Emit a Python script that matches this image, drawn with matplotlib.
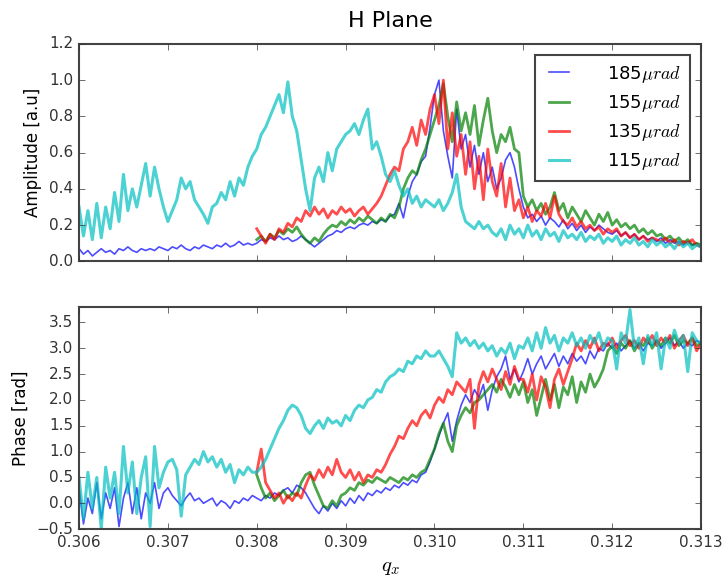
import numpy as np
import matplotlib
matplotlib.use("Agg")
import matplotlib.pyplot as plt

plt.style.use("classic")
plt.rcParams["mathtext.fontset"] = "cm"

# q_x sampling grid (shared by all scans), the 155/135 scans start at 0.308
q_full = np.round(np.linspace(0.306, 0.313, 141), 5)
q_part = q_full[40:]

labels = ["185$\\mu rad$", "155$\\mu rad$", "135$\\mu rad$", "115$\\mu rad$"]
colors = ["b", "g", "r", "c"]
widths = [1.2, 2.0, 2.0, 2.2]

amp_185 = [
    0.07, 0.04, 0.06, 0.03, 0.05, 0.07, 0.05, 0.06, 0.04, 0.07,
    0.06, 0.08, 0.06, 0.05, 0.07, 0.06, 0.07, 0.06, 0.08, 0.07,
    0.06, 0.08, 0.07, 0.09, 0.07, 0.06, 0.08, 0.07, 0.09, 0.08,
    0.07, 0.09, 0.08, 0.10, 0.08, 0.09, 0.11, 0.09, 0.10, 0.09,
    0.10, 0.12, 0.11, 0.13, 0.12, 0.14, 0.12, 0.13, 0.11, 0.12,
    0.14, 0.12, 0.10, 0.08, 0.10, 0.12, 0.14, 0.15, 0.17, 0.16,
    0.18, 0.19, 0.18, 0.20, 0.21, 0.20, 0.22, 0.21, 0.23, 0.22,
    0.25, 0.26, 0.32, 0.24, 0.36, 0.44, 0.48, 0.55, 0.58, 0.74,
    0.92, 1.00, 0.72, 0.58, 0.46, 0.84, 0.62, 0.70, 0.52, 0.64,
    0.48, 0.60, 0.44, 0.52, 0.40, 0.46, 0.56, 0.60, 0.52, 0.40,
    0.30, 0.24, 0.26, 0.22, 0.25, 0.20, 0.24, 0.22, 0.19, 0.23,
    0.18, 0.21, 0.17, 0.20, 0.16, 0.19, 0.17, 0.20, 0.18, 0.16,
    0.15, 0.17, 0.14, 0.16, 0.13, 0.15, 0.12, 0.14, 0.12, 0.13,
    0.11, 0.13, 0.10, 0.12, 0.10, 0.11, 0.09, 0.11, 0.09, 0.10,
    0.08,
]
amp_155 = [
    0.12, 0.14, 0.11, 0.15, 0.13, 0.17, 0.15, 0.18, 0.16, 0.19,
    0.15, 0.12, 0.10, 0.13, 0.11, 0.15, 0.18, 0.20, 0.19, 0.22,
    0.20, 0.23, 0.21, 0.24, 0.22, 0.25, 0.23, 0.21, 0.24, 0.22,
    0.26, 0.24, 0.30, 0.40, 0.46, 0.50, 0.48, 0.56, 0.62, 0.70,
    0.78, 0.86, 0.98, 0.80, 0.66, 0.88, 0.72, 0.82, 0.70, 0.86,
    0.64, 0.78, 0.90, 0.72, 0.60, 0.70, 0.66, 0.74, 0.62, 0.60,
    0.36, 0.30, 0.34, 0.28, 0.32, 0.26, 0.30, 0.38, 0.28, 0.32,
    0.24, 0.30, 0.26, 0.22, 0.28, 0.24, 0.20, 0.26, 0.22, 0.27,
    0.20, 0.23, 0.19, 0.21, 0.18, 0.20, 0.16, 0.18, 0.15, 0.17,
    0.14, 0.15, 0.12, 0.14, 0.11, 0.13, 0.10, 0.12, 0.09, 0.10,
    0.09,
]
amp_135 = [
    0.18, 0.14, 0.10, 0.15, 0.12, 0.18, 0.16, 0.21, 0.19, 0.24,
    0.22, 0.28, 0.25, 0.30, 0.26, 0.29, 0.24, 0.28, 0.26, 0.30,
    0.27, 0.29, 0.25, 0.28, 0.30, 0.26, 0.29, 0.32, 0.36, 0.42,
    0.48, 0.52, 0.50, 0.62, 0.66, 0.74, 0.64, 0.78, 0.70, 0.84,
    0.92, 0.76, 1.00, 0.62, 0.82, 0.58, 0.70, 0.48, 0.66, 0.40,
    0.58, 0.34, 0.62, 0.44, 0.36, 0.54, 0.30, 0.46, 0.28, 0.34,
    0.24, 0.30, 0.22, 0.28, 0.25, 0.32, 0.24, 0.36, 0.26, 0.22,
    0.20, 0.24, 0.19, 0.22, 0.18, 0.20, 0.17, 0.19, 0.15, 0.18,
    0.16, 0.18, 0.14, 0.16, 0.13, 0.15, 0.12, 0.14, 0.11, 0.13,
    0.12, 0.11, 0.13, 0.10, 0.12, 0.09, 0.11, 0.10, 0.12, 0.09,
    0.08,
]
amp_115 = [
    0.30, 0.14, 0.28, 0.12, 0.32, 0.13, 0.30, 0.18, 0.38, 0.22,
    0.48, 0.28, 0.40, 0.30, 0.42, 0.54, 0.36, 0.52, 0.40, 0.30,
    0.22, 0.28, 0.34, 0.46, 0.40, 0.44, 0.34, 0.30, 0.26, 0.21,
    0.30, 0.32, 0.38, 0.34, 0.44, 0.36, 0.46, 0.42, 0.52, 0.58,
    0.62, 0.70, 0.74, 0.80, 0.86, 0.92, 0.82, 0.99, 0.80, 0.72,
    0.56, 0.40, 0.28, 0.46, 0.52, 0.44, 0.60, 0.50, 0.62, 0.66,
    0.70, 0.72, 0.76, 0.70, 0.78, 0.84, 0.62, 0.66, 0.58, 0.48,
    0.44, 0.50, 0.42, 0.36, 0.40, 0.32, 0.36, 0.30, 0.34, 0.32,
    0.30, 0.34, 0.28, 0.32, 0.38, 0.48, 0.30, 0.22, 0.20, 0.18,
    0.22, 0.18, 0.20, 0.16, 0.14, 0.18, 0.12, 0.20, 0.15, 0.18,
    0.13, 0.20, 0.14, 0.17, 0.12, 0.18, 0.14, 0.16, 0.11, 0.17,
    0.13, 0.15, 0.12, 0.16, 0.11, 0.14, 0.12, 0.15, 0.10, 0.13,
    0.11, 0.14, 0.09, 0.12, 0.10, 0.13, 0.09, 0.11, 0.08, 0.12,
    0.09, 0.11, 0.08, 0.10, 0.07, 0.11, 0.08, 0.10, 0.07, 0.09,
    0.08,
]

ph_185 = [
    0.30, -0.40, 0.10, -0.20, 0.40, -0.30, 0.20, -0.10, 0.30, -0.45,
    0.10, 0.40, -0.20, 0.30, -0.30, 0.20, 0.00, 0.40, -0.10, 0.20,
    0.30, 0.15, 0.05, -0.05, 0.10, 0.20, 0.05, 0.10, 0.00, 0.05,
    0.10, -0.05, 0.05, 0.00, -0.10, 0.05, 0.00, 0.10, 0.05, 0.15,
    0.10, 0.05, 0.15, 0.10, 0.20, 0.15, 0.25, 0.30, 0.20, 0.35,
    0.30, 0.20, 0.05, -0.10, -0.20, -0.05, -0.15, 0.00, -0.10, 0.05,
    -0.05, 0.10, 0.00, 0.15, 0.05, 0.20, 0.15, 0.25, 0.20, 0.30,
    0.25, 0.35, 0.30, 0.40, 0.35, 0.45, 0.40, 0.55, 0.60, 0.80,
    1.05, 1.30, 1.55, 1.75, 1.20, 1.60, 1.90, 2.10, 1.95, 2.20,
    2.05, 2.30, 1.80, 2.20, 2.45, 2.60, 2.85, 2.40, 2.60, 2.35,
    2.55, 2.80, 2.50, 2.70, 2.85, 2.60, 2.75, 2.90, 2.65, 2.85,
    2.70, 2.90, 2.75, 2.85, 2.70, 2.95, 2.80, 3.00, 2.95, 3.10,
    3.00, 3.10, 2.95, 3.05, 3.15, 3.00, 3.10, 2.95, 3.10, 3.05,
    3.15, 3.00, 3.10, 3.20, 3.05, 3.15, 3.00, 3.10, 3.05, 3.15,
    3.10,
]
ph_155 = [
    0.55, 0.30, 0.10, 0.20, 0.05, 0.15, 0.25, 0.10, 0.20, 0.15,
    0.40, 0.55, 0.60, 0.35, 0.15, -0.05, -0.10, 0.05, -0.05, 0.15,
    0.20, 0.30, 0.25, 0.40, 0.35, 0.45, 0.40, 0.50, 0.45, 0.40,
    0.50, 0.45, 0.40, 0.50, 0.45, 0.55, 0.50, 0.60, 0.65, 0.85,
    1.05, 1.35, 1.55, 1.20, 1.00, 1.50, 1.70, 1.85, 1.75, 1.95,
    2.00, 2.10, 2.20, 2.30, 2.15, 2.40, 2.25, 2.05, 2.30, 2.10,
    2.35, 1.95, 2.20, 1.70, 2.05, 2.40, 2.00, 2.30, 1.85, 2.25,
    2.10, 2.45, 1.95, 2.35, 2.15, 2.50, 2.25, 2.40, 2.60, 2.95,
    3.05, 2.90, 3.10, 3.00, 3.15, 2.95, 3.10, 3.05, 3.20, 3.00,
    3.15, 3.05, 3.20, 3.10, 3.25, 3.05, 3.15, 3.10, 3.20, 3.05,
    3.10,
]
ph_135 = [
    0.60, 1.05, 0.40, 0.25, 0.10, 0.20, 0.00, 0.15, 0.05, 0.20,
    0.10, 0.35, 0.55, 0.45, 0.65, 0.50, 0.70, 0.55, 0.85, 0.60,
    0.50, 0.65, 0.45, 0.60, 0.40, 0.55, 0.50, 0.65, 0.60, 0.75,
    0.95, 1.10, 1.30, 1.25, 1.45, 1.60, 1.50, 1.70, 1.80, 1.65,
    1.90, 2.05, 1.95, 2.20, 2.10, 2.35, 2.25, 2.15, 2.40, 1.45,
    2.30, 2.55, 2.35, 2.60, 2.40, 2.20, 2.55, 2.30, 2.65, 2.40,
    2.40, 2.15, 2.50, 2.00, 2.45, 2.25, 1.85, 2.40, 2.60, 2.30,
    2.55, 2.80, 3.10, 2.95, 3.15, 3.00, 3.20, 2.95, 3.10, 3.05,
    3.20, 3.00, 3.15, 3.25, 3.05, 3.15, 3.00, 3.20, 3.10, 3.25,
    3.05, 3.20, 3.10, 3.25, 3.00, 3.15, 3.25, 3.05, 3.20, 2.95,
    3.10,
]
ph_115 = [
    0.50, -0.30, 0.60, -0.10, 0.50, -0.50, 0.70, 0.10, 0.60, -0.20,
    1.10, 0.20, 0.80, -0.20, 0.50, 0.90, -0.45, 1.10, 0.30, 0.60,
    0.80, 0.85, 0.65, -0.25, 0.55, 0.70, 0.85, 0.75, 1.00, 0.80,
    0.90, 0.70, 0.85, 0.60, 0.75, 0.40, 0.65, 0.55, 0.70, 0.60,
    0.60, 0.70, 0.85, 1.05, 1.25, 1.45, 1.60, 1.80, 1.90, 1.85,
    1.70, 1.45, 1.35, 1.50, 1.60, 1.45, 1.65, 1.55, 1.60, 1.50,
    1.70, 1.60, 1.80, 1.90, 1.85, 2.00, 2.05, 2.20, 2.15, 2.35,
    2.45, 2.50, 2.60, 2.55, 2.75, 2.70, 2.85, 2.80, 2.95, 2.85,
    2.85, 2.95, 2.80, 2.65, 2.45, 3.30, 3.10, 3.20, 3.05, 3.15,
    3.00, 3.10, 2.95, 3.05, 2.85, 3.00, 2.90, 3.10, 2.80, 3.05,
    3.00, 3.20, 2.95, 3.30, 3.00, 3.40, 3.10, 3.25, 2.95, 3.20,
    3.10, 3.30, 3.05, 3.20, 3.00, 3.25, 3.10, 3.30, 3.00, 3.20,
    3.15, 2.60, 3.30, 3.10, 3.75, 3.00, 3.20, 2.70, 3.25, 3.05,
    3.30, 2.60, 3.20, 3.00, 3.35, 3.10, 3.25, 2.55, 3.30, 3.15,
    3.10,
]

amps = [amp_185, amp_155, amp_135, amp_115]
phases = [ph_185, ph_155, ph_135, ph_115]
grids = [q_full, q_part, q_part, q_full]

fig = plt.figure(figsize=(7.25, 5.77), dpi=100, facecolor="white")
ax1 = fig.add_axes([0.109, 0.547, 0.858, 0.377])
ax2 = fig.add_axes([0.109, 0.083, 0.858, 0.385])

for q, a, p, c, lw, lab in zip(grids, amps, phases, colors, widths, labels):
    ax1.plot(q, a, color=c, lw=lw, alpha=0.7, label=lab)
    ax2.plot(q, p, color=c, lw=lw, alpha=0.7)

ax1.set_xlim(0.306, 0.313)
ax1.set_ylim(0.0, 1.2)
ax1.set_xticks(np.arange(0.306, 0.3131, 0.001))
ax1.set_xticklabels([])
ax1.set_ylabel("Amplitude [a.u]", fontsize=12)
ax1.set_title("H Plane", fontsize=16, pad=12)
leg = ax1.legend(loc="upper right", fontsize=13, handlelength=1.7,
                 handletextpad=1.8, labelspacing=0.45, borderpad=0.5,
                 borderaxespad=0.6)
leg.get_frame().set_linewidth(1.5)
leg.get_frame().set_edgecolor("#444444")

ax2.set_xlim(0.306, 0.313)
ax2.set_ylim(-0.5, 3.8)
ax2.set_xticks(np.arange(0.306, 0.3131, 0.001))
ax2.set_yticks(np.arange(-0.5, 3.6, 0.5))
ax2.ticklabel_format(axis="x", useOffset=False)
ax2.set_xlabel("$q_x$", fontsize=15)
ax2.set_ylabel("Phase [rad]", fontsize=12)

for ax in (ax1, ax2):
    ax.tick_params(labelsize=11, colors="#333333")
    for s in ax.spines.values():
        s.set_linewidth(1.5)
        s.set_color("#444444")

fig.savefig("out.png", dpi=100, facecolor="white")
